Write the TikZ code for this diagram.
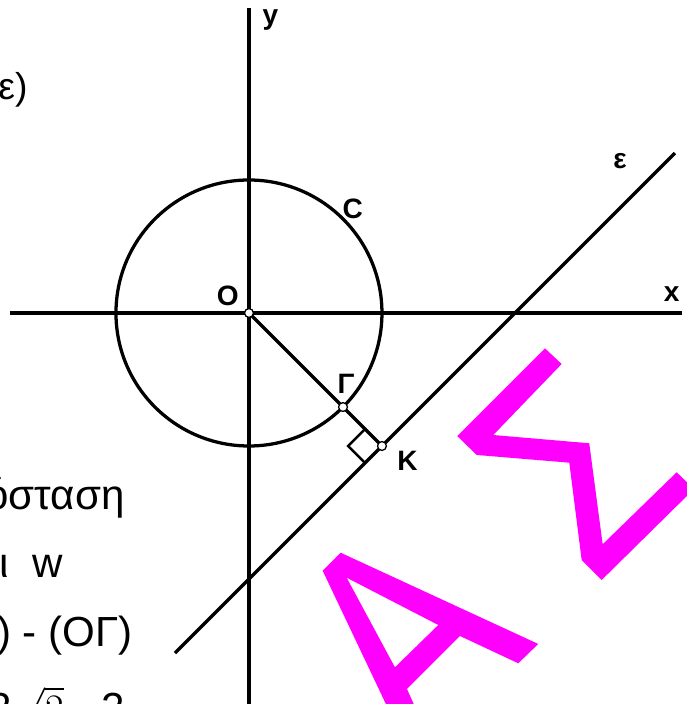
\documentclass[tikz,border=0pt]{standalone}
\usepackage{fontspec}
\setmainfont{Liberation Sans}
\usetikzlibrary{calc}
\definecolor{wmark}{RGB}{255,0,255}

\begin{document}
\begin{tikzpicture}[
  axis/.style={line width=1.45pt},
  curve/.style={line width=1.4pt},
  rmark/.style={line width=1pt},
  pt/.style={circle, draw, fill=white, inner sep=0pt, minimum size=3.8pt, line width=0.55pt},
  lab/.style={font=\fontsize{12}{14}\selectfont\bfseries, inner sep=0pt, anchor=base},
  txt/.style={font=\fontsize{18}{22}\selectfont, inner sep=0pt, anchor=base east},
  wm/.style={fill=wmark}
]
\useasboundingbox (-3.744,-5.880) rectangle (6.586,4.707);
\clip (-3.744,-5.880) rectangle (6.586,4.707);

% axes, circle and line
\coordinate (O) at (0,0);
\coordinate (xl) at (-3.594,0);
\coordinate (xr) at (6.507,0);
\coordinate (yb) at (0,-6.2);
\coordinate (yt) at (0,4.582);
\coordinate (e1) at (-1.113,-5.113);
\coordinate (e2) at (6.406,2.406);
\coordinate (G) at (-45:2);
\coordinate (K) at (2,-2);

\draw[axis] (xl) -- (xr);
\draw[axis] (yb) -- (yt);
\draw[curve] (O) circle (2);
\draw[curve] (e1) -- (e2);
\draw[curve] (O) -- (K);
\draw[rmark] ($(K)!0.36cm!(O)$) -- ++(-0.2546,-0.2546) -- ($(K)!0.36cm!(e1)$);

\node[pt] (o) at (O) {};
\node[pt] (g) at (G) {};
\node[pt] (k) at (K) {};

% labels
\node[lab] (ly) at (0.323,4.331) {y};
\node[lab] (lx) at (6.356,0.170) {x};
\node[lab] (le) at (5.579,2.176) {ε};
\node[lab] (lc) at (1.561,1.424) {C};
\node[lab] (lo) at (-0.319,0.120) {O};
\node[lab] (lg) at (1.459,-1.208) {Γ};
\node[lab] (lk) at (2.383,-2.371) {K};

% text cut at the left edge
\node[txt, font=\fontsize{16}{19}\selectfont] (t0) at (-3.323,3.218) {ε)};
\node[txt] (t1) at (-1.865,-2.962) {όσταση};
\node[txt] (t2) at (-2.797,-3.985) {ι\hspace{0.55em}w};
\node[txt] (t3) at (-1.744,-5.008) {) - (ΟΓ)};
\node[txt] (t4) at (-1.865,-6.16) {2$\sqrt{2}$ - 2};

% magenta letters
\fill[wm] (4.451,-0.531) -- (4.702,-0.767) -- (3.674,-1.835) -- (5.117,-1.959)
  -- (5.319,-3.478) -- (6.432,-2.395) -- (6.692,-2.647) -- (5.304,-4.015)
  -- (5.003,-3.714) -- (4.817,-2.251) -- (3.424,-2.135) -- (3.132,-1.850) -- cycle;
\fill[wm, even odd rule] (1.379,-3.605) -- (4.350,-4.977) -- (4.050,-5.268)
  -- (3.173,-4.857) -- (2.376,-5.654) -- (2.517,-5.970) -- (2.102,-5.970)
  -- (1.108,-3.875) -- cycle
  (1.469,-3.980) -- (2.847,-4.692) -- (2.195,-5.328) -- cycle;
\end{tikzpicture}
\end{document}
